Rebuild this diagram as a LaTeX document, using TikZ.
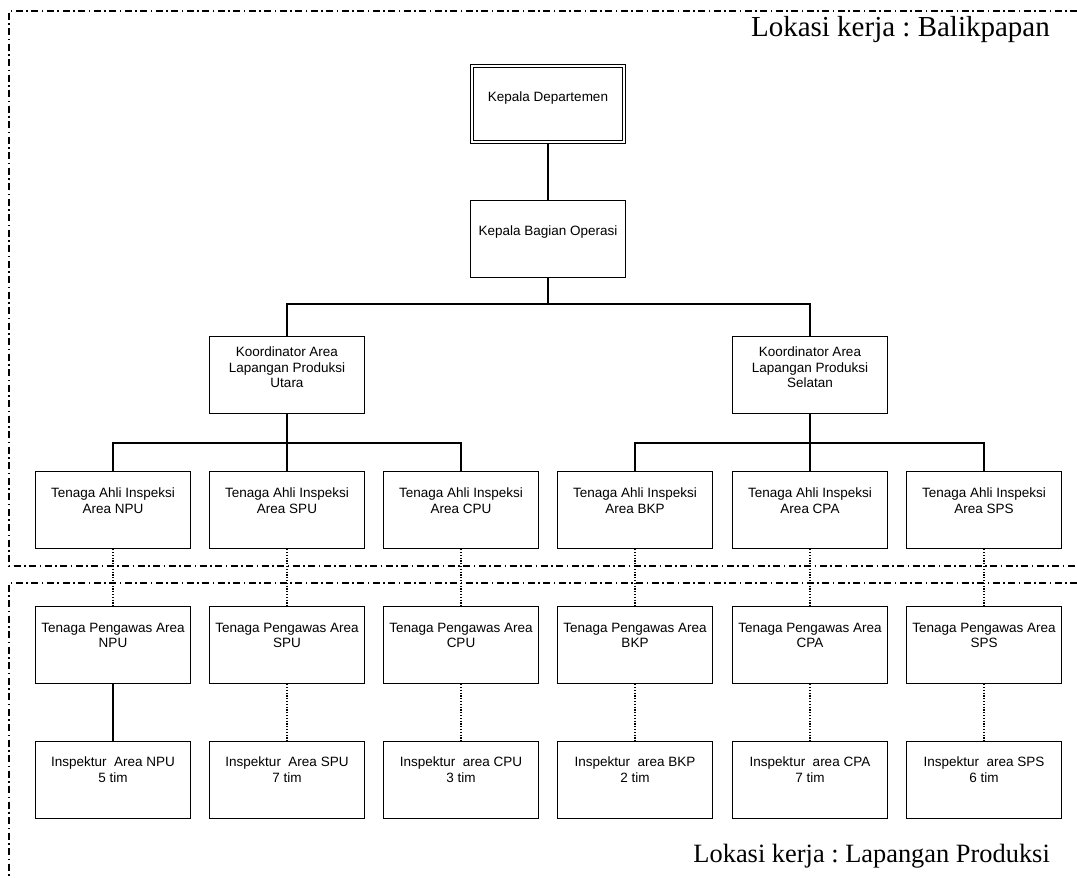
\documentclass[tikz,border=0pt]{standalone}
\usepackage{fontspec}
\setmainfont{Liberation Serif}
\newfontfamily\arial{Liberation Sans}
\frenchspacing
\begin{document}
\begin{tikzpicture}[x=1pt,y=-1pt,
  box/.style={draw, line width=1.2pt, minimum width=155pt, minimum height=77pt, inner sep=0pt, anchor=north},
  dbox/.style={draw, line width=1.1pt, double, double distance=1.5pt, minimum width=152pt, minimum height=76pt, inner sep=0pt, anchor=north},
  txt/.style={font=\arial\fontsize{13.5}{15.5}\selectfont, align=center, inner sep=0pt, anchor=north},
  conn/.style={line width=1.2pt},
  dotc/.style={line width=1.2pt, dash pattern=on 1.2pt off 1.6pt},
  region/.style={line width=1.4pt, dash pattern=on 7pt off 3.5pt on 1.5pt off 3.5pt},
  lbl/.style={inner sep=0pt, anchor=base east}]
\useasboundingbox (0,0) rectangle (1077,878);
\fill[white] (0,0) rectangle (1077,878);

% regions
\draw[region] (1077,11) -- (9,11) -- (9,566) -- (1077,566);
\draw[region] (1077,583) -- (9,583) -- (9,878);
\node[lbl, font={\fontsize{29}{32}\selectfont}] (l1) at (1050,36.5) {Lokasi kerja : Balikpapan};
\node[lbl, font={\fontsize{26.4}{29}\selectfont}] (l2) at (1050,862) {Lokasi kerja : Lapangan Produksi};

% bus coordinates
\coordinate (b1) at (0,304);
\coordinate (b2) at (0,443);

% boxes
\node[dbox] (kd) at (548,65.5) {};
\node[txt] at ([yshift=-26.5pt]kd.north) {Kepala Departemen};
\node[box] (kbo) at (548,200) {};
\node[txt] at ([yshift=-26pt]kbo.north) {Kepala Bagian Operasi};
\node[box] (ku) at (287,336) {};
\node[txt] at ([yshift=-11pt]ku.north) {Koordinator Area\\Lapangan Produksi\\Utara};
\node[box] (ks) at (810,336) {};
\node[txt] at ([yshift=-11pt]ks.north) {Koordinator Area\\Lapangan Produksi\\Selatan};

\foreach \n/\x/\a in {npu/113/NPU, spu/287/SPU, cpu/461/CPU, bkp/635/BKP, cpa/810/CPA, sps/984/SPS}{
  \node[box] (a\n) at (\x,471) {};
  \node[txt] at ([yshift=-17pt]a\n.north) {Tenaga Ahli Inspeksi\\Area \a};
  \node[box] (p\n) at (\x,606) {};
  \node[txt] at ([yshift=-17pt]p\n.north) {Tenaga Pengawas Area\\\a};
}
\node[box] (inpu) at (113,741) {};
\node[txt] at ([yshift=-16pt]inpu.north) {Inspektur\ \ Area NPU\\5 tim};
\node[box] (ispu) at (287,741) {};
\node[txt] at ([yshift=-16pt]ispu.north) {Inspektur\ \ Area SPU\\7 tim};
\node[box] (icpu) at (461,741) {};
\node[txt] at ([yshift=-16pt]icpu.north) {Inspektur\ \ area CPU\\3 tim};
\node[box] (ibkp) at (635,741) {};
\node[txt] at ([yshift=-16pt]ibkp.north) {Inspektur\ \ area BKP\\2 tim};
\node[box] (icpa) at (810,741) {};
\node[txt] at ([yshift=-16pt]icpa.north) {Inspektur\ \ area CPA\\7 tim};
\node[box] (isps) at (984,741) {};
\node[txt] at ([yshift=-16pt]isps.north) {Inspektur\ \ area SPS\\6 tim};

% connectors
\draw[conn] (kd.south) -- (kbo.north);
\draw[conn] (kbo.south) -- (kbo.south |- b1);
\draw[conn] (ku.north) |- (ks.north |- b1) -- (ks.north);
\draw[conn] (ku.south) -- (ku.south |- b2);
\draw[conn] (anpu.north) |- (acpu.north |- b2) -- (acpu.north);
\draw[conn] (aspu.north) -- (aspu.north |- b2);
\draw[conn] (ks.south) -- (ks.south |- b2);
\draw[conn] (abkp.north) |- (asps.north |- b2) -- (asps.north);
\draw[conn] (acpa.north) -- (acpa.north |- b2);

\foreach \n in {npu,spu,cpu,bkp,cpa,sps}{
  \draw[dotc] (a\n.south) -- (p\n.north);
}
\draw[conn] (pnpu.south) -- (inpu.north);
\foreach \n in {spu,cpu,bkp,cpa,sps}{
  \draw[dotc] (p\n.south) -- (i\n.north);
}
\end{tikzpicture}
\end{document}
